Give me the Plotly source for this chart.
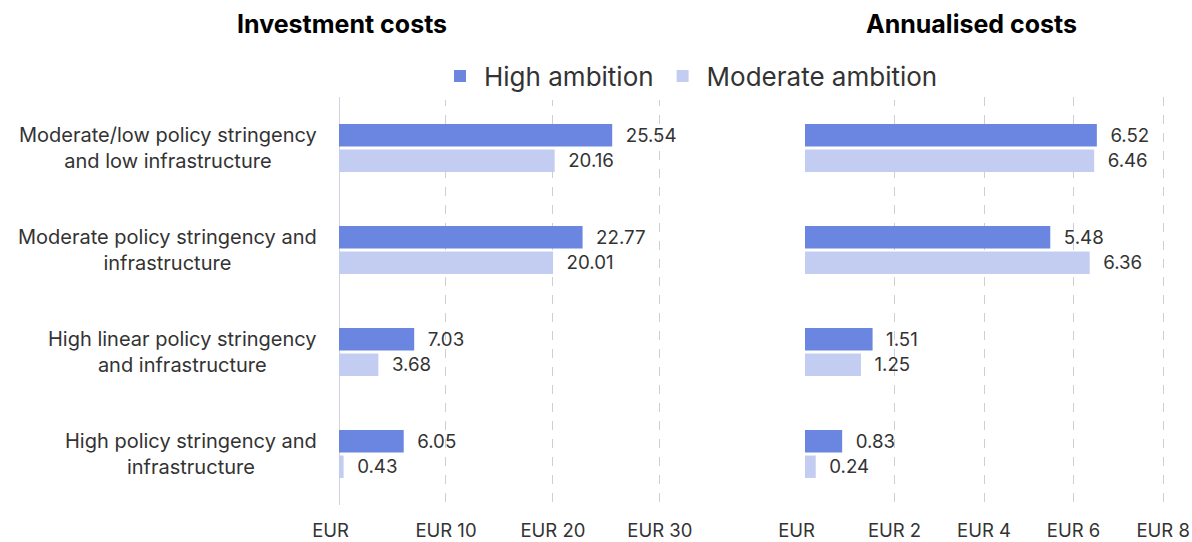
import plotly.graph_objects as go

categories = [
    "Moderate/low policy stringency<br>and low infrastructure",
    "Moderate policy stringency and<br>infrastructure",
    "High linear policy stringency<br>and infrastructure",
    "High policy stringency and<br>infrastructure",
]
series_names = ["High ambition", "Moderate ambition"]
invest_high = [25.54, 22.77, 7.03, 6.05]
invest_mod = [20.16, 20.01, 3.68, 0.43]
annual_high = [6.52, 5.48, 1.51, 0.83]
annual_mod = [6.46, 6.36, 1.25, 0.24]
invest_ticks = [0, 10, 20, 30]
annual_ticks = [0, 2, 4, 6, 8]
panel_titles = ["Investment costs", "Annualised costs"]

colors = ["#6B86E0", "#C3CDF1"]
FONT = "Inter"
TXT = "#333333"
W, H = 1192, 542
M_T = 97
M_B = H - 505  # plot area bottom at y=505
PH = H - M_T - M_B


def px(x):
    return x / W


def py(y):
    return (H - M_B - y) / PH


fig = go.Figure()
NB = "\u00a0\u00a0"
for i, (name, vals) in enumerate(zip(series_names, [invest_high, invest_mod])):
    fig.add_trace(go.Bar(
        name=name, y=categories, x=vals, orientation="h",
        marker=dict(color=colors[i], line=dict(width=0)),
        text=[f"{NB}{v:.2f}" for v in vals], textposition="outside",
        textfont=dict(family=FONT, size=20, color=TXT),
        cliponaxis=False, xaxis="x", yaxis="y", legendgroup=name,
    ))
for i, (name, vals) in enumerate(zip(series_names, [annual_high, annual_mod])):
    fig.add_trace(go.Bar(
        name=name, y=categories, x=vals, orientation="h",
        marker=dict(color=colors[i], line=dict(width=0)),
        text=[f"{NB}{v:.2f}" for v in vals], textposition="outside",
        textfont=dict(family=FONT, size=20, color=TXT),
        cliponaxis=False, xaxis="x2", yaxis="y2", legendgroup=name, showlegend=False,
    ))


def ticktext(vals):
    out = []
    for v in vals:
        if v == 0:
            out.append("EUR <span style='color:rgba(0,0,0,0)'>0</span>")
        else:
            out.append(f"EUR {v}")
    return out


axis_common = dict(
    showgrid=True, gridcolor="#cfcfcf", griddash="dash", gridwidth=1,
    ticks="outside", ticklen=9, tickcolor="rgba(0,0,0,0)",
    tickfont=dict(family=FONT, size=18.5, color=TXT),
    automargin=False, showline=False, fixedrange=True,
)

fig.update_layout(
    width=W, height=H,
    margin=dict(l=0, r=0, t=M_T, b=M_B),
    paper_bgcolor="white", plot_bgcolor="white",
    barmode="group", bargap=0.5, bargroupgap=0.12,
    font=dict(family=FONT, color=TXT),
    showlegend=True,
    legend=dict(
        orientation="h", x=px(436), xanchor="left",
        y=py(76), yanchor="middle",
        font=dict(family=FONT, size=26, color=TXT),
        itemsizing="constant", traceorder="normal", itemwidth=38,
    ),
    xaxis=dict(
        domain=[px(339), px(692)], range=[0, 33],
        tickvals=invest_ticks, ticktext=ticktext(invest_ticks),
        zeroline=True, zerolinecolor="#d0d4dc", zerolinewidth=1,
        **axis_common,
    ),
    xaxis2=dict(
        domain=[px(805), px(1181)], range=[0, 8.4],
        tickvals=annual_ticks, ticktext=ticktext(annual_ticks),
        zeroline=False,
        **axis_common,
    ),
    yaxis=dict(
        type="category", autorange="reversed", anchor="x",
        showticklabels=False, showgrid=False, zeroline=False, fixedrange=True,
    ),
    yaxis2=dict(
        type="category", autorange="reversed", anchor="x2", matches="y",
        showticklabels=False, showgrid=False, zeroline=False, fixedrange=True,
    ),
)

annotations = []
for c in categories:
    annotations.append(dict(
        x=px(319), xref="paper", xanchor="right", y=c, yref="y", yanchor="middle",
        text=c, showarrow=False, align="center",
        font=dict(family=FONT, size=20, color=TXT),
    ))
title_x = [px(342), px(971)]
for t, tx in zip(panel_titles, title_x):
    annotations.append(dict(
        x=tx, xref="paper", xanchor="center",
        y=py(24), yref="paper", yanchor="middle",
        text=f"<b>{t}</b>", showarrow=False,
        font=dict(family=FONT, size=25, color="#000000", weight=800),
    ))
fig.update_layout(annotations=annotations)

fig.write_html(
    "out.html",
    config={"displayModeBar": False},
    post_script="document.body.style.margin='0';document.body.style.overflow='hidden';",
)
